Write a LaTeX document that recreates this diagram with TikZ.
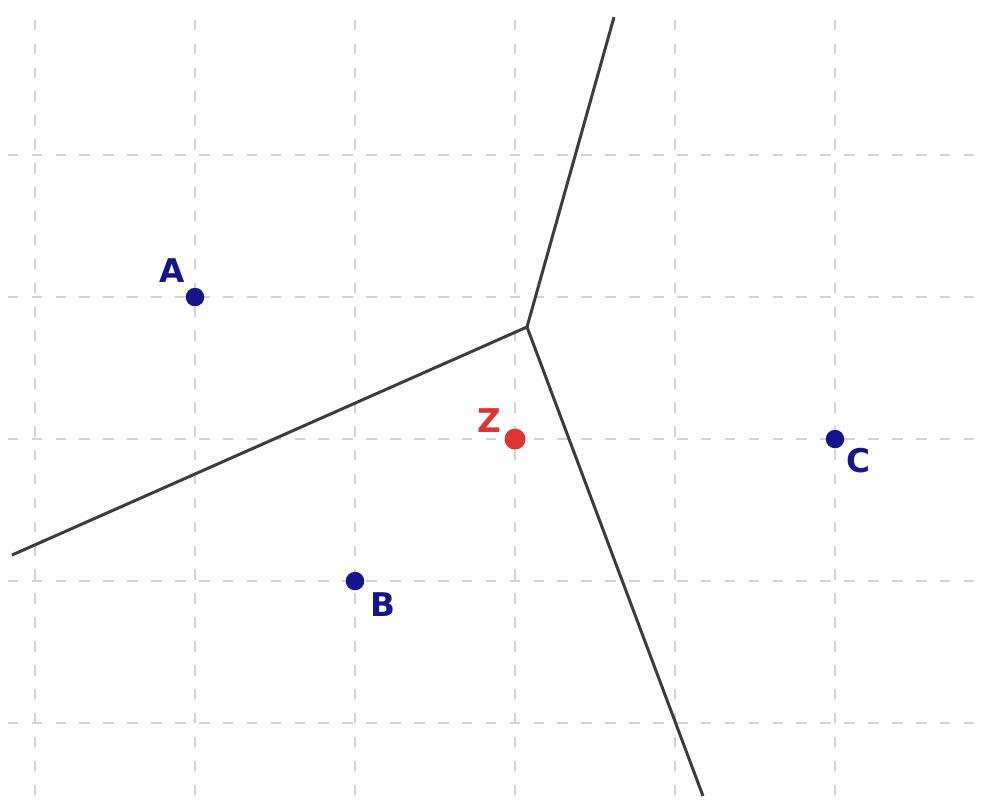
\documentclass[tikz,border=0pt]{standalone}
\usepackage{fontspec}
\newfontfamily\lblfont{DejaVu Sans}
\definecolor{ptblue}{RGB}{22,22,140}
\definecolor{ptred}{RGB}{222,52,52}
\definecolor{cellgray}{RGB}{60,60,60}
\begin{document}
\begin{tikzpicture}[
        x=1.6cm, y=1.42cm,
        gridline/.style={draw=gray!35, line width=0.6pt, dash pattern=on 3pt off 3.8pt},
        edge/.style={draw=cellgray, line width=0.85pt},
        site/.style={circle, fill=ptblue, inner sep=0pt, minimum size=0.185cm},
        query/.style={circle, fill=ptred, inner sep=0pt, minimum size=0.21cm},
        sitelabel/.style={font=\lblfont\bfseries\fontsize{9.3}{11}\selectfont, text=ptblue, inner sep=0pt},
        querylabel/.style={sitelabel, text=ptred}
    ]
        \useasboundingbox (-0.21875,-0.549) rectangle (5.95,5.092);

        % grid
        \foreach \x in {0,...,5}
            \draw[gridline] (\x,-0.507) -- (\x,5.02);
        \foreach \y in {0,...,4}
            \draw[gridline] (-0.17,\y) -- (6.05,\y);

        % cell borders
        \coordinate (vtx) at (3.075,2.789);
        \coordinate (endtop) at (3.619,4.972);
        \coordinate (endleft) at (-0.144,1.183);
        \coordinate (endbottom) at (4.175,-0.514);
        \draw[edge] (vtx) -- (endtop);
        \draw[edge] (vtx) -- (endleft);
        \draw[edge] (vtx) -- (endbottom);

        % sites
        \node[site] (a) at (1,3) {};
        \node[site] (b) at (2,1) {};
        \node[site] (c) at (5,2) {};
        \node[query] (z) at (3,2) {};

        \node[sitelabel] (la) at ([shift={(-0.23cm,0.26cm)}]a) {A};
        \node[sitelabel] (lb) at ([shift={(0.28cm,-0.24cm)}]b) {B};
        \node[sitelabel] (lc) at ([shift={(0.23cm,-0.22cm)}]c) {C};
        \node[querylabel] (lz) at ([shift={(-0.26cm,0.18cm)}]z) {Z};
\end{tikzpicture}
\end{document}
